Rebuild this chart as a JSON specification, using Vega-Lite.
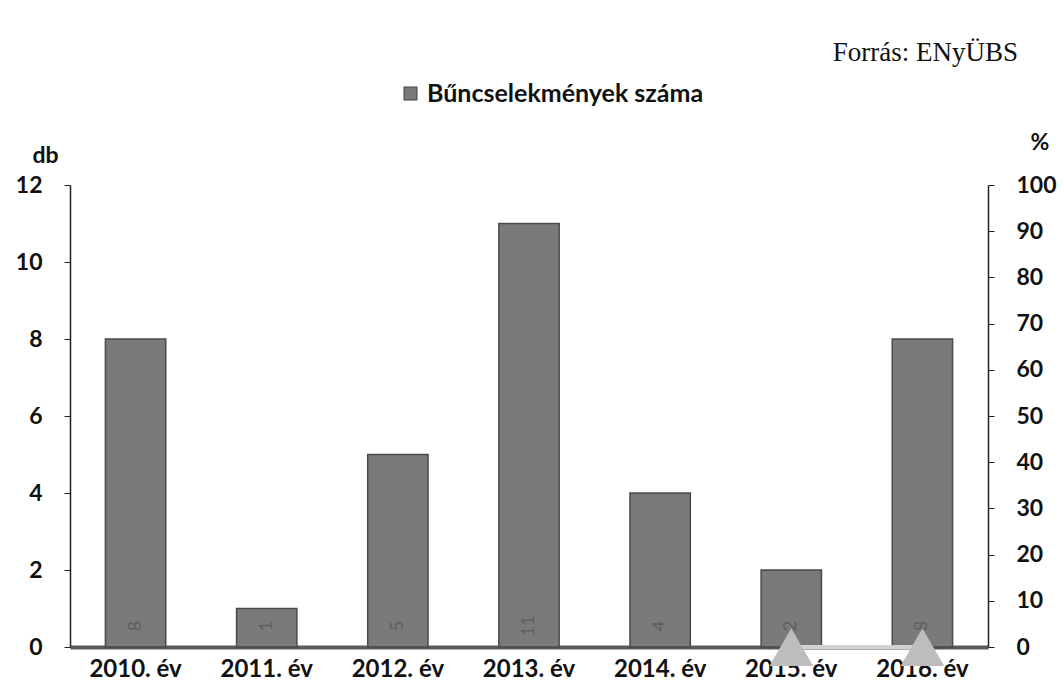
{
  "$schema": "https://vega.github.io/schema/vega-lite/v6.json",
  "autosize": "none",
  "width": 918,
  "height": 462,
  "padding": {"left": 70, "top": 185, "right": 76, "bottom": 46},
  "background": "white",
  "config": {"view": {"stroke": null}},
  "title": {
    "text": "Forrás: ENyÜBS",
    "anchor": "end",
    "frame": "group",
    "font": "Liberation Serif",
    "fontSize": 27,
    "fontWeight": "normal",
    "color": "#111",
    "dx": 30,
    "offset": 14
  },
  "data": {
    "values": [
      {"ev": "2010. év", "db": 8, "szazalek": null},
      {"ev": "2011. év", "db": 1, "szazalek": null},
      {"ev": "2012. év", "db": 5, "szazalek": null},
      {"ev": "2013. év", "db": 11, "szazalek": null},
      {"ev": "2014. év", "db": 4, "szazalek": null},
      {"ev": "2015. év", "db": 2, "szazalek": 0},
      {"ev": "2016. év", "db": 8, "szazalek": 0}
    ]
  },
  "encoding": {
    "x": {
      "field": "ev",
      "type": "nominal",
      "sort": null,
      "scale": {"paddingInner": 0.54, "paddingOuter": 0.27},
      "axis": {
        "title": null,
        "labelAngle": 0,
        "labelFont": "Lato",
        "labelFontWeight": "bold",
        "labelFontSize": 24,
        "labelColor": "#111",
        "labelPadding": 10,
        "ticks": false,
        "domainColor": "#5a5a5a",
        "domainWidth": 4
      }
    }
  },
  "layer": [
    {
      "mark": {"type": "bar", "fill": "#7a7a7a", "stroke": "#4a4a4a", "strokeWidth": 1.5},
      "encoding": {
        "y": {
          "field": "db",
          "type": "quantitative",
          "scale": {"domain": [0, 12]},
          "axis": {
            "title": "db",
            "titleAngle": 0,
            "titleX": -38,
            "titleY": -23,
            "titleAlign": "left",
            "titleBaseline": "alphabetic",
            "titleFont": "Lato",
            "titleFontWeight": "bold",
            "titleFontSize": 23,
            "titleColor": "#111",
            "values": [0, 2, 4, 6, 8, 10, 12],
            "grid": false,
            "labelFont": "Lato",
            "labelFontWeight": "bold",
            "labelFontSize": 23,
            "labelColor": "#111",
            "labelPadding": 22,
            "tickSize": 6,
            "tickColor": "#222",
            "domainColor": "#222",
            "domainWidth": 1.5
          }
        },
        "color": {
          "datum": "Bűncselekmények száma",
          "scale": {"range": ["#7a7a7a"]},
          "legend": {
            "title": null,
            "orient": "none",
            "legendX": 328,
            "legendY": -104,
            "direction": "horizontal",
            "symbolType": "square",
            "symbolSize": 170,
            "symbolStrokeColor": "#444",
            "symbolStrokeWidth": 1,
            "labelFont": "Lato",
            "labelFontWeight": "bold",
            "labelFontSize": 25,
            "labelColor": "#111",
            "labelLimit": 0,
            "labelOffset": 4
          }
        }
      }
    },
    {
      "mark": {"type": "text", "angle": 270, "dx": 21, "align": "center", "baseline": "middle", "font": "Lato", "fontSize": 18, "color": "#5e5e5e"},
      "encoding": {
        "y": {"datum": 0, "type": "quantitative", "scale": {"domain": [0, 12]}, "axis": null},
        "text": {"field": "db", "type": "quantitative"}
      }
    },
    {
      "mark": {"type": "line", "color": "#d2d2d2", "strokeWidth": 4},
      "encoding": {
        "y": {
          "field": "szazalek",
          "type": "quantitative",
          "scale": {"domain": [0, 100]},
          "axis": {
            "title": "%",
            "orient": "right",
            "titleAngle": 0,
            "titleX": 42,
            "titleY": -36,
            "titleAlign": "left",
            "titleBaseline": "alphabetic",
            "titleFont": "Lato",
            "titleFontWeight": "bold",
            "titleFontSize": 23,
            "titleColor": "#111",
            "values": [0, 10, 20, 30, 40, 50, 60, 70, 80, 90, 100],
            "grid": false,
            "labelFont": "Lato",
            "labelFontWeight": "bold",
            "labelFontSize": 23,
            "labelColor": "#111",
            "labelPadding": 22,
            "tickSize": 6,
            "tickColor": "#222",
            "domainColor": "#222",
            "domainWidth": 1.5
          }
        }
      }
    },
    {
      "mark": {"type": "point", "shape": "triangle-up", "filled": true, "size": 1900, "color": "#bdbdbd", "opacity": 1},
      "encoding": {
        "y": {"field": "szazalek", "type": "quantitative", "scale": {"domain": [0, 100]}, "axis": null}
      }
    }
  ],
  "resolve": {"scale": {"y": "independent"}}
}
